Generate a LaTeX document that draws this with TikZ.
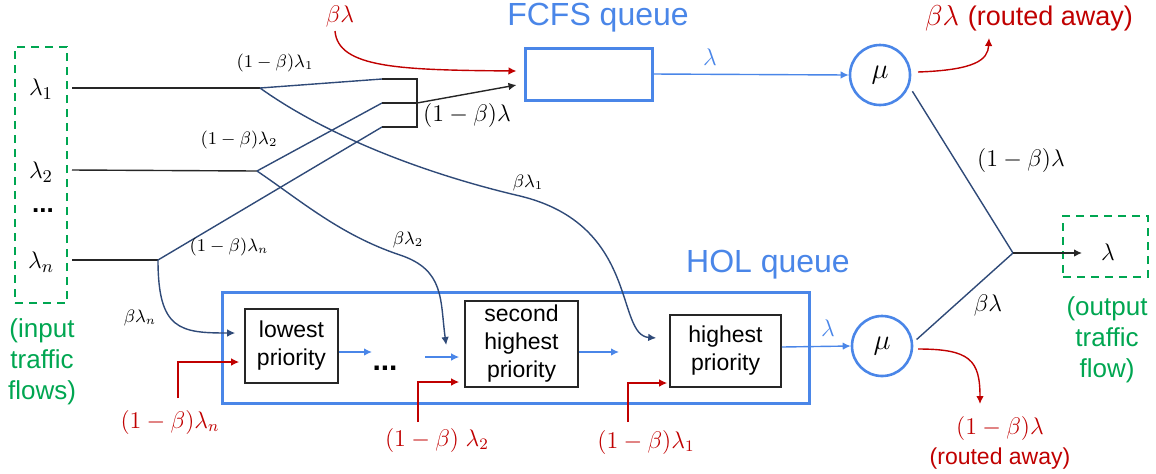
\documentclass[tikz,border=0pt]{standalone}
\usepackage{fontspec}
\setsansfont{Liberation Sans}
\usetikzlibrary{arrows.meta,calc}
\definecolor{qblue}{HTML}{4A86E8}
\definecolor{qred}{HTML}{C00000}
\definecolor{qgreen}{HTML}{00A651}
\definecolor{qnavy}{HTML}{2F4A78}
\newcommand\fsz[2]{\fontsize{#1}{#2}\selectfont}
\begin{document}
\begin{tikzpicture}[x=0.5pt,y=-0.5pt,
  tip/.style={-{Latex[length=4pt,width=3.8pt]}},
  navyline/.style={qnavy,line width=0.7pt},
  blackline/.style={black!85,line width=0.7pt},
  redline/.style={qred,line width=0.7pt},
  blueline/.style={qblue,line width=0.7pt},
  dashbox/.style={draw=qgreen,dashed,dash pattern=on 4pt off 3pt,line width=1.2pt,inner sep=0pt},
  queuebox/.style={draw=qblue,line width=1.5pt,inner sep=0pt},
  prio/.style={draw=black!85,line width=0.8pt,inner sep=0pt,align=center,font=\sffamily\fsz{11.5}{14}},
  server/.style={circle,draw=qblue,line width=1.3pt,minimum size=30pt,inner sep=0pt,font=\fsz{14}{16}},
  small/.style={font=\fsz{9}{10}},
  mid/.style={font=\fsz{11.5}{13}},
  greentext/.style={text=qgreen,align=center,font=\sffamily\fsz{13}{15.5}},
  title/.style={text=qblue,font=\sffamily\fsz{16}{18}}]
\useasboundingbox (0,0) rectangle (1156,473);

% input traffic flows
\node[dashbox,minimum width=26pt,minimum height=128pt] (inbox) at (41,175) {};
\node[font=\fsz{13}{15}] (lam1) at (41,89) {$\lambda_1$};
\node[font=\fsz{13}{15}] (lam2) at (41,172) {$\lambda_2$};
\node[font=\sffamily\bfseries\fsz{13}{15}] (lamdots) at (43,211) {...};
\node[font=\fsz{13}{15}] (lamn) at (41,262) {$\lambda_n$};
\node[greentext] (intext) at (42,362) {(input\\traffic\\flows)};

% splitting points and the merging bracket
\coordinate (i1) at (72,88);
\coordinate (i2) at (72,170);
\coordinate (in) at (72,260);
\coordinate (s1) at (260,88);
\coordinate (s2) at (257,171);
\coordinate (sn) at (158,260);
\coordinate (b1) at (382,79);
\coordinate (b2) at (382,103);
\coordinate (b3) at (382,127);
\coordinate (c1) at (417,79);
\coordinate (c2) at (417,103);
\coordinate (c3) at (417,127);

% FCFS queue
\node[queuebox,minimum width=63.5pt,minimum height=26pt] (fcfs) at (588.5,74) {};
\node[title] (fcfstitle) at (598,18) {FCFS queue};
\node[server] (mu1) at (880,75) {$\mu$};

% HOL queue
\node[queuebox,minimum width=293.5pt,minimum height=55.5pt] (hol) at (515.5,347.5) {};
\node[title] (holtitle) at (768,265) {HOL queue};
\node[prio,minimum width=46.5pt,minimum height=37pt] (low) at (291.5,346) {lowest\\priority};
\node[prio,minimum width=56.5pt,minimum height=43pt] (sec) at (521.5,344) {second\\highest\\priority};
\node[prio,minimum width=55.5pt,minimum height=36pt] (high) at (725.5,351) {highest\\priority};
\node[font=\sffamily\bfseries\fsz{15}{17}] (holdots) at (385,368) {...};
\node[server] (mu2) at (882,346) {$\mu$};

% output traffic flow
\node[dashbox,minimum width=42.5pt,minimum height=30.5pt] (outbox) at (1105.5,246.5) {};
\node[font=\fsz{12}{14}] (lamout) at (1108,252) {$\lambda$};
\node[greentext] (outtext) at (1107,340) {(output\\traffic\\flow)};
\coordinate (join) at (1013,253);

% input lines
\draw[blackline] (i1) -- (s1);
\draw[blackline] (i2) -- (s2);
\draw[blackline] (in) -- (sn);

% the (1-beta) shares towards the FCFS queue
\draw[navyline] (s1) -- (b1);
\draw[navyline] (s2) -- (b2);
\draw[navyline] (sn) -- (b3);
\draw[blackline] (b1) -- (c1) -- (c3) -- (b3);
\draw[blackline] (b2) -- (c2);
\draw[blackline,tip] (c2) -- ($(fcfs.west)+(-7,11)$);
\draw[redline,tip] (335,31) .. controls (338,68) and (400,70) .. ($(fcfs.west)+(-7,-3)$);
\node[small] (f1) at (275,63) {$(1-\beta)\lambda_1$};
\node[small] (f2) at (239,140) {$(1-\beta)\lambda_2$};
\node[small] (fn) at (229,247) {$(1-\beta)\lambda_n$};
\node[mid] (fsum) at (467,115) {$(1-\beta)\lambda$};
\node[mid,text=qred] (fred) at (340,16) {$\beta\lambda$};

% the beta shares towards the HOL queue
\draw[navyline,tip] (s1) .. controls (330,138) and (430,175) .. (520,196)
   .. controls (640,225) and (615,335) .. ($(high.west)+(-13,-13)$);
\draw[navyline,tip] (s2) .. controls (300,200) and (340,235) .. (400,255)
   .. controls (445,270) and (440,300) .. ($(sec.west)+(-18,1)$);
\draw[navyline,tip] (sn) .. controls (158,330) and (180,333) .. ($(low.west)+(-9,-13)$);
\node[small] (h1) at (528,183) {$\beta\lambda_1$};
\node[small] (h2) at (408,240) {$\beta\lambda_2$};
\node[small] (hn) at (140,318) {$\beta\lambda_n$};

% flow inside the HOL queue
\draw[blueline,tip] (low.east |- 0,352) -- (372,352);
\draw[blueline,tip] (425,357) -- ($(sec.west)+(-5,13)$);
\draw[blueline,tip] (sec.east |- 0,352) -- (619,352);

% external arrivals at each priority class
\draw[redline,tip] (178,398) -- (178,362) -- ($(low.west)+(-5,16)$);
\draw[redline,tip] (418,422) -- (418,382) -- ($(sec.west)+(-5,38)$);
\draw[redline,tip] (628,422) -- (628,383) -- ($(high.west)+(-2,32)$);
\node[mid,text=qred] (rn) at (170,422) {$(1-\beta)\lambda_n$};
\node[mid,text=qred] (r2) at (437,440) {$(1-\beta)\;\lambda_2$};
\node[mid,text=qred] (r1) at (646,442) {$(1-\beta)\lambda_1$};

% servers
\draw[blueline,tip] (fcfs.east) -- (mu1.west);
\node[font=\fsz{12}{14},text=qblue] (lfc) at (710,57) {$\lambda$};
\draw[blueline,tip] (high.east |- 0,347) -- (mu2.west);
\node[font=\fsz{12}{14},text=qblue] (lho) at (828,328) {$\lambda$};

% departures
\draw[redline,tip] (918,72) .. controls (975,70) and (988,60) .. (989,38);
\node[text=qred,font=\fsz{13.5}{16}] (away1) at (1029,18) {$\beta\lambda$ \sffamily(routed away)};
\draw[redline,tip] (918,349) .. controls (970,349) and (980,360) .. (980,404);
\node[text=qred,align=center,font=\fsz{11.5}{14}] (away2) at (1000,443) {$(1-\beta)\lambda$\\[1pt]\sffamily(routed away)};

% merge into the output flow
\draw[navyline] ($(mu1.-25)+(4,3)$) -- (join);
\draw[navyline] ($(mu2.12)+(4,0)$) -- (join);
\draw[blackline,tip] (join) -- (1082,253);
\node[font=\fsz{13}{15}] (o1) at (1021,160) {$(1-\beta)\lambda$};
\node[font=\fsz{12.5}{15}] (o2) at (988,305) {$\beta\lambda$};
\end{tikzpicture}
\end{document}
